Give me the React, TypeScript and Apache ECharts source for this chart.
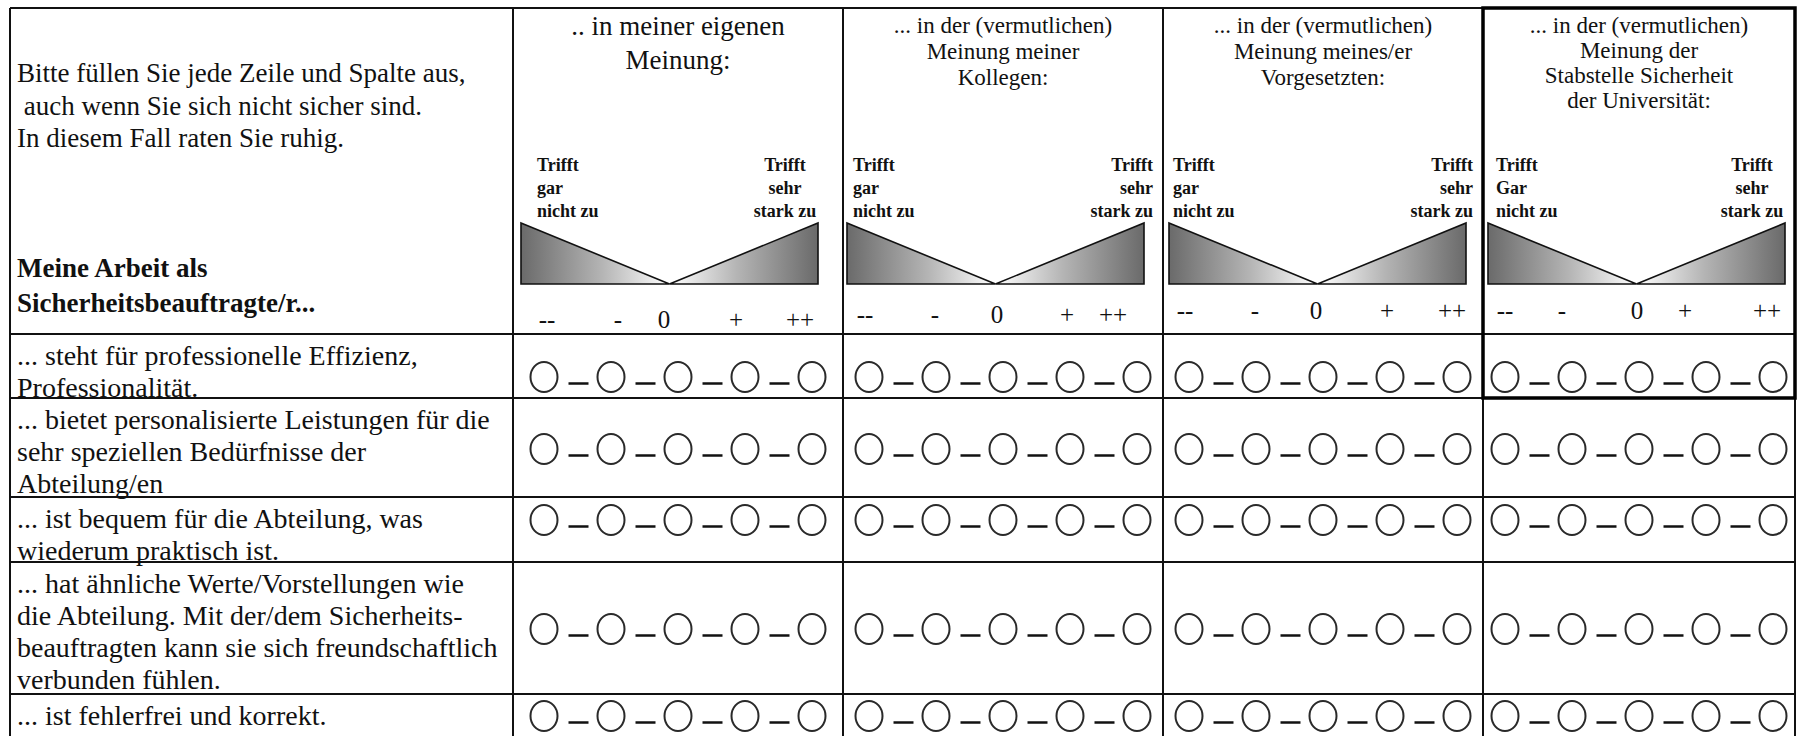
import React, { useEffect, useRef } from "react";
import * as echarts from "echarts";

// ---------- content (data) ----------
const instructionLines = [
  "Bitte füllen Sie jede Zeile und Spalte aus,",
  " auch wenn Sie sich nicht sicher sind.",
  "In diesem Fall raten Sie ruhig.",
];
const stemLines = ["Meine Arbeit als", "Sicherheitsbeauftragte/r..."];
const perspectives = [
  [".. in meiner eigenen", "Meinung:"],
  ["... in der (vermutlichen)", "Meinung meiner", "Kollegen:"],
  ["... in der (vermutlichen)", "Meinung meines/er", "Vorgesetzten:"],
  ["... in der (vermutlichen)", "Meinung der", "Stabstelle Sicherheit", "der Universität:"],
];
const lowAnchors = [
  ["Trifft", "gar", "nicht zu"],
  ["Trifft", "gar", "nicht zu"],
  ["Trifft", "gar", "nicht zu"],
  ["Trifft", "Gar", "nicht zu"],
];
const highAnchors = [
  ["Trifft", "sehr", "stark zu"],
  ["Trifft", "sehr", "stark zu"],
  ["Trifft", "sehr", "stark zu"],
  ["Trifft", "sehr", "stark zu"],
];
const scalePoints = ["--", "-", "0", "+", "++"];
const items = [
  ["... steht für professionelle Effizienz,", "Professionalität."],
  ["... bietet personalisierte Leistungen für die", "sehr speziellen Bedürfnisse der", "Abteilung/en"],
  ["... ist bequem für die Abteilung, was", "wiederum praktisch ist."],
  [
    "... hat ähnliche Werte/Vorstellungen wie",
    "die Abteilung. Mit der/dem Sicherheits-",
    "beauftragten kann sie sich freundschaftlich",
    "verbunden fühlen.",
  ],
  ["... ist fehlerfrei und korrekt."],
];

// ---------- layout ----------
const W = 1799;
const H = 736;
const FONT = '"Liberation Serif", "Times New Roman", serif';
const colX = [10, 513, 843, 1163, 1483, 1795];
const rowY = [8, 334, 398, 497, 562, 694, 780];
const headerFont = [27, 23, 23, 23];
const headerLineH = [34, 26, 26, 25];
const headerFirstY = [26, 25, 25, 25];
const lowDx = [24, 10, 10, 13];
const highAlign = ["center", "right", "right", "center"];
const highDx = [58, 10, 10, 43];
const anchorY = [165, 188, 211];
const triDx = [8, 4, 6, 5];
const triW = 297;
const triTop = 223;
const triBottom = 284;
const scaleDx = [
  [34, 105, 151, 223, 287],
  [22, 92, 154, 224, 270],
  [22, 92, 153, 224, 289],
  [22, 79, 154, 202, 284],
];
const scaleY = [319, 314, 310, 310];
const circleDy = [43, 51, 23, 67, 22];
const circleGap = 67;
const rx = 13.5;
const ry = 15;

function txt(text: string, x: number, y: number, font: string, align = "left") {
  return {
    type: "text",
    silent: true,
    x,
    y,
    style: {
      text,
      x: 0,
      y: 0,
      font,
      fill: "#111",
      textAlign: align,
      align,
      textVerticalAlign: "middle",
      verticalAlign: "middle",
    },
  };
}

function buildElements() {
  const g: any[] = [];
  g.push({ type: "rect", shape: { x: 0, y: 0, width: W, height: H }, style: { fill: "#fff" }, silent: true });

  // left header
  instructionLines.forEach((l, i) => g.push(txt(l, 17, 73 + i * 32.5, `27px ${FONT}`)));
  stemLines.forEach((l, i) => g.push(txt(l, 17, 268 + i * 35, `bold 27px ${FONT}`)));

  // perspective columns
  perspectives.forEach((lines, c) => {
    const L = colX[c + 1];
    const R = colX[c + 2];
    const cx = (L + R) / 2;
    lines.forEach((l, i) =>
      g.push(txt(l, cx, headerFirstY[c] + i * headerLineH[c], `${headerFont[c]}px ${FONT}`, "center"))
    );
    lowAnchors[c].forEach((l, i) => g.push(txt(l, L + lowDx[c], anchorY[i], `bold 18px ${FONT}`, "left")));
    highAnchors[c].forEach((l, i) => {
      g.push(txt(l, R - highDx[c], anchorY[i], `bold 18px ${FONT}`, highAlign[c]));
    });
    const tl = L + triDx[c];
    const tr = tl + triW;
    const tm = (tl + tr) / 2;
    g.push({
      type: "polygon",
      shape: { points: [[tl, triTop], [tm, triBottom], [tl, triBottom]] },
      style: {
        fill: new echarts.graphic.LinearGradient(0, 0, 1, 0, [
          { offset: 0, color: "#6a6a6a" },
          { offset: 0.55, color: "#b5b5b5" },
          { offset: 1, color: "#ffffff" },
        ]),
        stroke: "#111",
        lineWidth: 1.6,
      },
      silent: true,
    });
    g.push({
      type: "polygon",
      shape: { points: [[tm, triBottom], [tr, triTop], [tr, triBottom]] },
      style: {
        fill: new echarts.graphic.LinearGradient(0, 0, 1, 0, [
          { offset: 0, color: "#ffffff" },
          { offset: 0.45, color: "#b5b5b5" },
          { offset: 1, color: "#6a6a6a" },
        ]),
        stroke: "#111",
        lineWidth: 1.6,
      },
      silent: true,
    });
    scalePoints.forEach((s, k) => g.push(txt(s, L + scaleDx[c][k], scaleY[c], `25px ${FONT}`, "center")));
  });

  // item rows
  items.forEach((lines, r) => {
    const top = rowY[r + 1];
    lines.forEach((l, i) => g.push(txt(l, 17, top + 21 + i * 32, `28px ${FONT}`)));
    const cy = top + circleDy[r];
    perspectives.forEach((_, c) => {
      const L = colX[c + 1];
      const R = colX[c + 2];
      const mid = (L + R) / 2;
      const first = mid - (circleGap * (scalePoints.length - 1)) / 2;
      scalePoints.forEach((_, k) => {
        const x = first + k * circleGap;
        g.push({
          type: "ellipse",
          shape: { cx: x, cy, rx, ry },
          style: { fill: "#fff", stroke: "#2a2a2a", lineWidth: 2 },
          silent: true,
        });
        if (k < scalePoints.length - 1) {
          const dm = x + circleGap / 2 + 1;
          g.push({
            type: "line",
            shape: { x1: dm - 10, y1: cy + 6.5, x2: dm + 10, y2: cy + 6.5 },
            style: { stroke: "#111", lineWidth: 2.5 },
            silent: true,
          });
        }
      });
    });
  });

  // grid lines
  rowY.forEach((y) =>
    g.push({
      type: "line",
      shape: { x1: colX[0], y1: y, x2: colX[colX.length - 1], y2: y },
      style: { stroke: "#111", lineWidth: 2 },
      silent: true,
    })
  );
  colX.forEach((x) =>
    g.push({
      type: "line",
      shape: { x1: x, y1: rowY[0], x2: x, y2: rowY[rowY.length - 1] },
      style: { stroke: "#111", lineWidth: 2 },
      silent: true,
    })
  );
  // emphasized box around last perspective (header + first item)
  g.push({
    type: "rect",
    shape: { x: colX[4], y: rowY[0], width: colX[5] - colX[4], height: rowY[2] - rowY[0] },
    style: { fill: "none", stroke: "#000", lineWidth: 3.5 },
    silent: true,
  });
  return g;
}

export default function App() {
  const ref = useRef<HTMLDivElement>(null);
  useEffect(() => {
    if (!ref.current) return;
    const chart = echarts.init(ref.current, null, { renderer: "svg" });
    chart.setOption({
      animation: false,
      backgroundColor: "#fff",
      graphic: { elements: buildElements() },
    });
    return () => chart.dispose();
  }, []);
  return (
    <div
      ref={ref}
      style={{ position: "absolute", left: 0, top: 0, width: W, height: H, background: "#fff" }}
    />
  );
}
